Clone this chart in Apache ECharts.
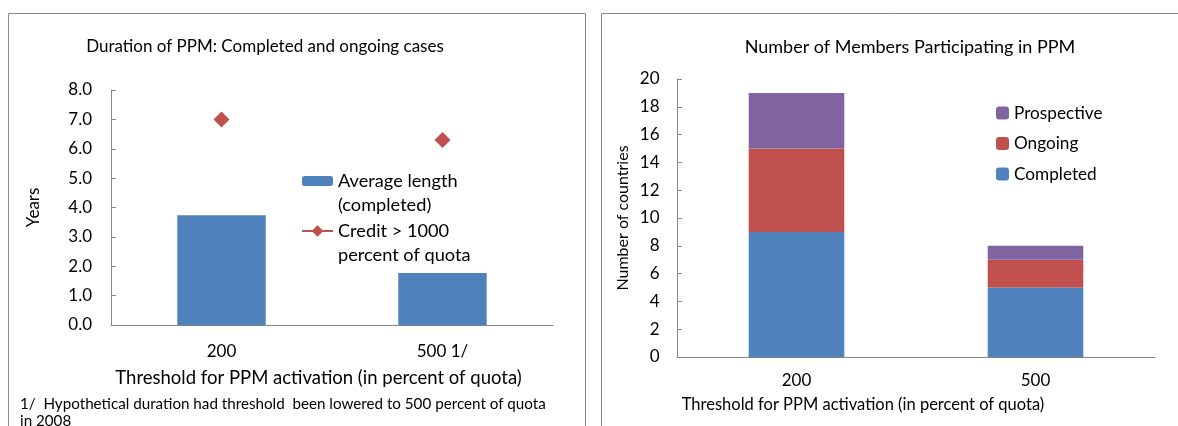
<!DOCTYPE html>
<html>
<head>
<meta charset="utf-8">
<script src="https://cdn.jsdelivr.net/npm/echarts@6/dist/echarts.min.js"></script>
<style>
  html, body { margin: 0; padding: 0; background: #fff; }
  #chart { width: 1178px; height: 426px; }
</style>
</head>
<body>
<div id="chart"></div>
<script>
// Left panel: duration of PPM cases
const durationCategories = ['200', '500 1/'];
const averageLength = [3.74, 1.77];
const creditOver1000 = [7.0, 6.3];
const durationTicks = [0, 1, 2, 3, 4, 5, 6, 7, 8];

// Right panel: members participating
const memberCategories = ['200', '500'];
const completed = [9, 5];
const ongoing = [6, 2];
const prospective = [4, 1];

const FONT = 'Lato, "Open Sans", sans-serif';
const BLUE = '#4F81BD', RED = '#C0504D', PURPLE = '#8064A2';
const AXIS = '#868686';

const chart = echarts.init(document.getElementById('chart'));

const txt = (size, extra) => Object.assign({ fontFamily: FONT, color: '#000', fontSize: size }, extra || {});

// Two-line legend labels: a leading blank line keeps the first text line level with the icon
const twoLineLegend = (name, top, icon) => ({
  data: [icon ? { name: name, icon: icon } : name],
  left: 302, top: top, padding: 0, itemWidth: 31, itemHeight: icon ? 12 : 10,
  selectedMode: false,
  formatter: n => '\n' + n,
  textStyle: txt(18.2, { lineHeight: 24 })
});

chart.setOption({
  animation: false,
  textStyle: { fontFamily: FONT },
  title: [
    { text: 'Duration of PPM: Completed and ongoing cases', left: 260, top: 33, textAlign: 'center',
      textStyle: txt(17, { fontWeight: 'normal' }) },
    { text: 'Number of Members Participating in PPM', left: 905, top: 33, textAlign: 'center',
      textStyle: txt(18, { fontWeight: 'normal' }) }
  ],
  grid: [
    { left: 111, top: 90, width: 442, height: 235 },
    { left: 677, top: 79, width: 478, height: 278 }
  ],
  legend: [
    twoLineLegend('Average length\n(completed)', 145),
    twoLineLegend('Credit > 1000\npercent of quota', 195,
      'path://M0,5 L32,5 L32,7 L0,7 Z M16,0 L22,6 L16,12 L10,6 Z'),
    { data: ['Prospective', 'Ongoing', 'Completed'], orient: 'vertical', left: 996, top: 103, padding: 0,
      itemWidth: 13, itemHeight: 13, itemGap: 10.5, selectedMode: false,
      textStyle: txt(17.2, { lineHeight: 20 }) }
  ],
  xAxis: [
    { type: 'category', gridIndex: 0, data: durationCategories,
      axisLine: { lineStyle: { color: AXIS } },
      axisTick: { inside: true, length: 5, lineStyle: { color: AXIS } },
      axisLabel: txt(17, { margin: 18.5 }),
      name: 'Threshold for PPM activation (in percent of quota)', nameLocation: 'middle', nameGap: 44,
      nameTextStyle: txt(18.5, { padding: [0, 27, 0, 0] }) },
    { type: 'category', gridIndex: 1, data: memberCategories,
      axisLine: { lineStyle: { color: AXIS } },
      axisTick: { inside: true, length: 5, lineStyle: { color: AXIS } },
      axisLabel: txt(17, { margin: 15.5 }),
      name: 'Threshold for PPM activation (in percent of quota)', nameLocation: 'middle', nameGap: 39,
      nameTextStyle: txt(16.5, { padding: [0, 106, 0, 0] }) }
  ],
  yAxis: [
    { type: 'value', gridIndex: 0, min: durationTicks[0], max: durationTicks[durationTicks.length - 1], interval: 1,
      axisLine: { show: true, lineStyle: { color: AXIS } },
      axisTick: { show: true, inside: true, length: 5, lineStyle: { color: AXIS } },
      splitLine: { show: false },
      axisLabel: txt(17, { margin: 19, formatter: v => v.toFixed(1) }),
      name: 'Years', nameLocation: 'middle', nameGap: 69,
      nameTextStyle: txt(17) },
    { type: 'value', gridIndex: 1, min: 0, max: 20, interval: 2,
      axisLine: { show: true, lineStyle: { color: AXIS } },
      axisTick: { show: true, inside: true, length: 5, lineStyle: { color: AXIS } },
      splitLine: { show: false },
      axisLabel: txt(17, { margin: 17.5 }),
      name: 'Number of countries', nameLocation: 'middle', nameGap: 46,
      nameTextStyle: txt(16) }
  ],
  series: [
    { name: 'Average length\n(completed)', type: 'bar', xAxisIndex: 0, yAxisIndex: 0,
      data: averageLength, barWidth: '40%', itemStyle: { color: BLUE } },
    { name: 'Credit > 1000\npercent of quota', type: 'scatter', xAxisIndex: 0, yAxisIndex: 0,
      data: creditOver1000, symbol: 'diamond', symbolSize: 16, itemStyle: { color: RED, opacity: 1 } },
    { name: 'Completed', type: 'bar', stack: 'm', xAxisIndex: 1, yAxisIndex: 1,
      data: completed, barWidth: '40%', itemStyle: { color: BLUE } },
    { name: 'Ongoing', type: 'bar', stack: 'm', xAxisIndex: 1, yAxisIndex: 1,
      data: ongoing, barWidth: '40%', itemStyle: { color: RED } },
    { name: 'Prospective', type: 'bar', stack: 'm', xAxisIndex: 1, yAxisIndex: 1,
      data: prospective, barWidth: '40%', itemStyle: { color: PURPLE } }
  ],
  graphic: [
    { type: 'rect', shape: { x: 8.5, y: 13.5, width: 577, height: 430 },
      style: { fill: 'none', stroke: '#8a8a8a', lineWidth: 1 }, silent: true },
    { type: 'rect', shape: { x: 601.5, y: 13.5, width: 600, height: 430 },
      style: { fill: 'none', stroke: '#8a8a8a', lineWidth: 1 }, silent: true },
    { type: 'text', left: 20, top: 395.5,
      style: { text: '1/  Hypothetical duration had threshold  been lowered to 500 percent of quota\nin 2008',
        fontFamily: FONT, fontSize: 15.2, fill: '#000', lineHeight: 17 } }
  ]
});
</script>
</body>
</html>
